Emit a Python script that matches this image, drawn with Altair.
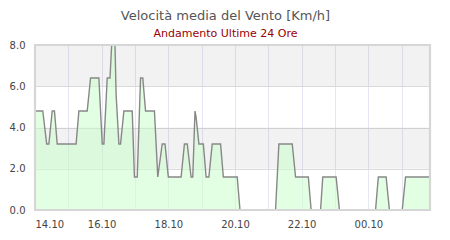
import altair as alt
import pandas as pd

# minutes since 14:10 and wind speed (km/h)
minutes = [0, 14, 21, 25, 31, 35, 40, 74, 79, 94, 100, 115, 121, 124, 130, 135, 138, 144, 146, 151,
           154, 160, 175, 179, 184, 190, 194, 199, 215, 221, 229, 234, 240, 263, 269, 274, 281, 284,
           288, 290, 295, 303, 308, 313, 319, 334, 339, 364, 369, 433, 439, 463, 469, 492, 497, 514,
           518, 542, 548, 613, 618, 632, 638, 661, 667, 711]
speeds = [4.8, 4.8, 3.2, 3.2, 4.8, 4.8, 3.2, 3.2, 4.8, 4.8, 6.4, 6.4, 3.2, 3.2, 6.4, 6.4, 8.0, 8.0, 5.6, 3.2,
          3.2, 4.8, 4.8, 1.6, 1.6, 6.4, 6.4, 4.8, 4.8, 1.6, 3.2, 3.2, 1.6, 1.6, 3.2, 3.2, 1.6, 1.6,
          4.8, 4.5, 3.2, 3.2, 1.6, 1.6, 3.2, 3.2, 1.6, 1.6, 0.0, 0.0, 3.2, 3.2, 1.6, 1.6, 0.0, 0.0,
          1.6, 1.6, 0.0, 0.0, 1.6, 1.6, 0.0, 0.0, 1.6, 1.6]

band_lo = [2.0, 6.0]
band_hi = [4.0, 8.0]
x_tick_labels = ["14.10", "16.10", "18.10", "20.10", "22.10", "00.10"]
y_ticks = [0, 2, 4, 6, 8]
x_grid = [0, 60, 120, 180, 240, 300, 360, 420, 480, 540, 600, 660]

df = pd.DataFrame({"t": minutes, "v": speeds})
bands = pd.DataFrame({"lo": band_lo, "hi": band_hi})
frame_df = pd.DataFrame({"k": [0]})

label_js = "[" + ",".join(f"'{s}'" for s in x_tick_labels) + "]"
xscale = alt.Scale(domain=[0, 711], nice=False, zero=False)
yscale = alt.Scale(domain=[0, 8], nice=False)

font = "DejaVu Sans"
xaxis = alt.Axis(values=x_grid,
                 labelExpr=f"datum.value % 120 == 0 ? {label_js}[datum.value / 120] : ''",
                 grid=True, gridColor="#e6e6f6", domain=False, ticks=False,
                 labelPadding=9, labelFontSize=10, labelColor="#444", labelFont=font,
                 labelOverlap=False, title=None)
yaxis = alt.Axis(values=y_ticks, format=".1f", grid=True, gridColor="#dcdcdc",
                 domain=False, ticks=False, labelPadding=10, labelFontSize=10,
                 labelColor="#444", labelFont=font, title=None)

band_layer = alt.Chart(bands).mark_rect(color="#000000", opacity=0.05).encode(
    x=alt.value(0), x2=alt.value("width"),
    y=alt.Y("lo:Q", scale=yscale, axis=yaxis), y2="hi:Q")

area = alt.Chart(df).mark_area(color="#ccffcc", opacity=0.55).encode(
    x=alt.X("t:Q", scale=xscale, axis=xaxis),
    y=alt.Y("v:Q", scale=yscale, axis=yaxis))

line = alt.Chart(df).mark_line(color="#888888", strokeWidth=1.4, clip=True).encode(
    x=alt.X("t:Q", scale=xscale, axis=xaxis),
    y=alt.Y("v:Q", scale=yscale, axis=yaxis))

frame = alt.Chart(frame_df).mark_rect(filled=False, stroke="#d6d6d6", strokeWidth=2.2).encode(
    x=alt.value(0), x2=alt.value("width"), y=alt.value(0), y2=alt.value("height"))

chart = alt.layer(band_layer, area, line, frame).properties(
    width=395, height=165,
    autosize=alt.AutoSizeParams(type="none"),
    padding={"left": 35, "top": 45, "right": 20, "bottom": 30},
    title=alt.TitleParams(text="Velocità media del Vento [Km/h]",
                          subtitle="Andamento Ultime 24 Ore",
                          fontSize=13, subtitleFontSize=11, color="#555555",
                          subtitleColor="#990000", font=font, subtitleFont=font,
                          fontWeight="normal", anchor="middle", dx=-7, offset=1,
                          subtitlePadding=5)
).configure_view(stroke=None)

chart.save("out.html", embed_options={"renderer": "svg", "actions": False})
